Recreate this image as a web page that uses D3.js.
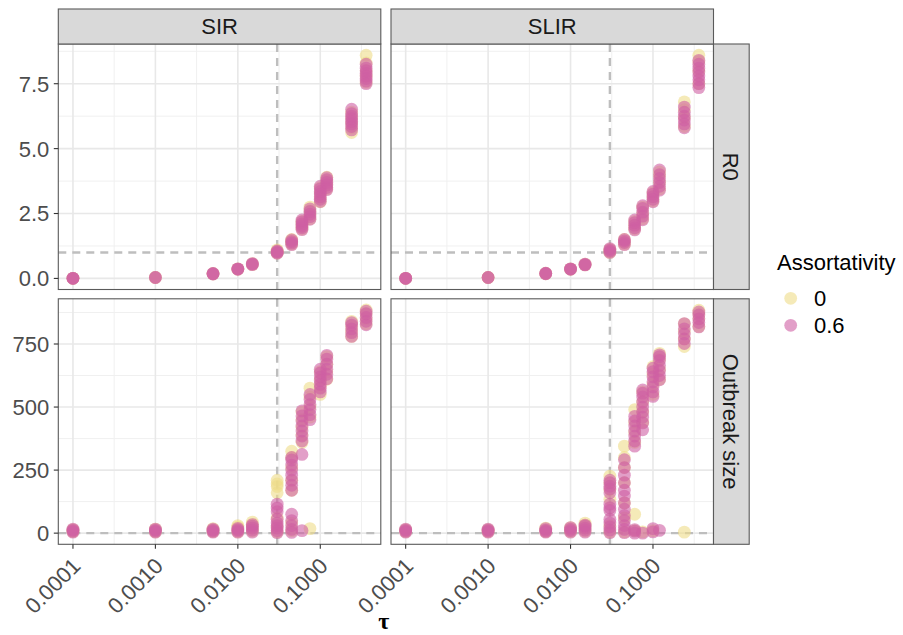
<!DOCTYPE html>
<html>
<head>
<meta charset="utf-8">
<script src="https://cdn.jsdelivr.net/npm/d3@7"></script>
<style>
  body { margin: 0; background: #fff; }
  svg { display: block; }
  text { font-family: "Liberation Sans", Arial, Helvetica, sans-serif; }
</style>
</head>
<body>
<svg id="chart" width="903" height="635"></svg>
<script>
// Transmission rate values used in the simulations
const tau = [0.0001, 0.001, 0.005, 0.01, 0.015, 0.03, 0.045, 0.06, 0.075, 0.1, 0.12, 0.24, 0.36];

const models = ["SIR", "SLIR"];
const measures = ["R0", "Outbreak size"];
const assortativity = ["0", "0.6"];
const groupColors = ["#EEDC88", "#CF5FA4"];

// Replicate results, one list per tau value
const sirR0_a0 = [
  [0.004, 0.004], [0.035, 0.037], [0.17, 0.19], [0.35, 0.37], [0.53, 0.57],
  [0.98, 1.02, 1.06, 1.1], [1.32, 1.38, 1.45, 1.5], [1.9, 2.0, 2.1, 2.2],
  [2.3, 2.45, 2.6, 2.75], [2.95, 3.1, 3.3, 3.5], [3.45, 3.6, 3.75, 3.9],
  [5.62, 5.8, 6.0, 6.2, 6.4], [7.55, 7.8, 8.0, 8.3, 8.6]
];
const sirR0_a6 = [
  [0.003, 0.004, 0.004], [0.035, 0.036], [0.17, 0.18, 0.19], [0.35, 0.36, 0.37], [0.53, 0.55, 0.57],
  [0.97, 1.0, 1.03, 1.06], [1.3, 1.36, 1.42, 1.48], [1.88, 1.95, 2.02, 2.1, 2.18, 2.25],
  [2.28, 2.38, 2.48, 2.58, 2.68], [2.96, 3.05, 3.15, 3.25, 3.35, 3.45, 3.55],
  [3.42, 3.5, 3.6, 3.7, 3.8, 3.88], [5.72, 5.85, 5.95, 6.05, 6.15, 6.25, 6.35, 6.52],
  [7.5, 7.6, 7.7, 7.8, 7.9, 8.0, 8.1, 8.25]
];
const slirR0_a0 = [
  [0.004, 0.004], [0.035, 0.037], [0.18, 0.2], [0.35, 0.37], [0.52, 0.55],
  [1.0, 1.06, 1.12], [1.32, 1.4, 1.5], [1.9, 2.05, 2.2], [2.3, 2.5, 2.75],
  [2.98, 3.15, 3.3], [3.45, 3.7, 3.95, 4.1], [5.85, 6.2, 6.5, 6.8], [7.5, 8.0, 8.35, 8.6]
];
const slirR0_a6 = [
  [0.003, 0.004, 0.004], [0.035, 0.036], [0.18, 0.19, 0.2], [0.35, 0.36, 0.37], [0.52, 0.53, 0.55],
  [1.0, 1.05, 1.1, 1.15], [1.3, 1.38, 1.45, 1.5], [1.87, 1.95, 2.05, 2.15, 2.25],
  [2.26, 2.4, 2.55, 2.7, 2.8], [2.95, 3.05, 3.15, 3.25, 3.35],
  [3.4, 3.55, 3.7, 3.85, 4.0, 4.18], [5.8, 5.95, 6.1, 6.25, 6.4, 6.6],
  [7.35, 7.5, 7.65, 7.8, 7.95, 8.1, 8.25, 8.4]
];
const sirSize_a0 = [
  [6, 10, 14], [5, 10, 16], [6, 12, 18], [5, 14, 24, 30], [8, 20, 34, 44],
  [5, 25, 60, 160, 185, 195, 210], [10, 40, 170, 210, 260, 300, 325],
  [360, 390, 420, 450, 480], [18, 460, 500, 540, 575], [550, 580, 610, 640],
  [610, 640, 670, 700], [780, 800, 820, 840], [830, 850, 870, 885]
];
const sirSize_a6 = [
  [4, 8, 12, 16], [4, 8, 12, 16], [4, 8, 12, 16], [4, 9, 14, 19], [4, 12, 20, 28, 34],
  [2, 10, 20, 30, 40, 55, 85, 100, 115], [3, 15, 30, 50, 75, 170, 190, 210, 230, 250, 270, 290, 300],
  [10, 312, 365, 385, 405, 425, 445, 465, 485], [450, 470, 490, 510, 530, 550],
  [560, 575, 590, 605, 620, 635, 650], [612, 630, 650, 670, 690, 705],
  [780, 795, 810, 825, 835], [826, 840, 855, 870, 880]
];
const slirSize_a0 = [
  [6, 10, 14], [6, 10, 14], [6, 12, 20], [6, 14, 22], [8, 20, 32, 40],
  [5, 30, 134, 173, 200, 226], [5, 60, 120, 200, 260, 300, 345],
  [10, 75, 360, 400, 440, 490], [5, 440, 480, 520, 560], [10, 550, 590, 630, 660],
  [610, 650, 690, 713], [4, 740, 770, 800, 830], [820, 850, 870, 884]
];
const slirSize_a6 = [
  [4, 8, 12, 16], [4, 8, 12, 16], [4, 8, 12, 18], [4, 10, 16, 22], [4, 12, 20, 28, 32],
  [2, 12, 25, 40, 55, 90, 101, 115, 160, 175, 186, 200, 210],
  [2, 15, 30, 50, 70, 95, 120, 147, 170, 200, 230, 260, 291],
  [0, 8, 14, 345, 365, 385, 405, 425, 445, 463],
  [0, 410, 437, 460, 480, 500, 520, 540, 555, 568],
  [5, 18, 542, 560, 580, 600, 620, 640, 654],
  [11, 608, 625, 645, 665, 685, 700, 707],
  [752, 770, 790, 810, 831], [818, 835, 850, 865, 877]
];

// Axis breaks and reference lines
const xTicks = [0.0001, 0.001, 0.01, 0.1];
const xTickLabels = ["0.0001", "0.0010", "0.0100", "0.1000"];
const r0Ticks = [0, 2.5, 5, 7.5];
const r0TickLabels = ["0.0", "2.5", "5.0", "7.5"];
const sizeTicks = [0, 250, 500, 750];
const sizeTickLabels = ["0", "250", "500", "750"];
const tauThreshold = 0.03;
const r0Threshold = 1;
const sizeThreshold = 0;

// panel data: [row][col] -> [assortativity 0, assortativity 0.6]
const panels = [
  [[sirR0_a0, sirR0_a6], [slirR0_a0, slirR0_a6]],
  [[sirSize_a0, sirSize_a6], [slirSize_a0, slirSize_a6]]
];
const rowTicks = [r0Ticks, sizeTicks];
const rowTickLabels = [r0TickLabels, sizeTickLabels];
const rowThreshold = [r0Threshold, sizeThreshold];

// Layout
const colX = [58.3, 391];
const panelW = 322.5;
const rowY = [44, 298.8];
const panelH = 245.5;
const stripTop = 9;
const stripH = 35;
const stripRightW = 35.7;
const pointAlpha = 0.6;

const svg = d3.select("#chart");

// Shared log x-scale with 5% expansion in log space
const lx = d3.extent(tau).map(Math.log10);
const ex = (lx[1] - lx[0]) * 0.05;
const xDomain = [Math.pow(10, lx[0] - ex), Math.pow(10, lx[1] + ex)];
const xScales = colX.map(x0 => d3.scaleLog().domain(xDomain).range([x0, x0 + panelW]));

// y scales per row, expanded 5%
const yScales = rowY.map((y0, r) => {
  const all = [];
  panels[r].forEach(p => p.forEach(g => g.forEach(list => list.forEach(v => all.push(v)))));
  const e = d3.extent(all);
  const pad = (e[1] - e[0]) * 0.05;
  return d3.scaleLinear().domain([e[0] - pad, e[1] + pad]).range([y0 + panelH, y0]);
});

const xMinor = xTicks.map(t => t * Math.sqrt(10));
function yMinor(ticks, scale) {
  const step = ticks[1] - ticks[0];
  const out = [];
  const d = scale.domain();
  for (let t = ticks[0] - step / 2; t <= d[1]; t += step) if (t >= d[0]) out.push(t);
  return out;
}

for (let r = 0; r < 2; r++) {
  for (let c = 0; c < 2; c++) {
    const x = xScales[c], y = yScales[r];
    const g = svg.append("g");
    const x0 = colX[c], y0 = rowY[r];

    g.append("rect").attr("x", x0).attr("y", y0).attr("width", panelW).attr("height", panelH).attr("fill", "#fff");

    // minor grid
    xMinor.filter(v => v > xDomain[0] && v < xDomain[1]).forEach(v => {
      g.append("line").attr("x1", x(v)).attr("x2", x(v)).attr("y1", y0).attr("y2", y0 + panelH)
        .attr("stroke", "#F0F0F0").attr("stroke-width", 1);
    });
    yMinor(rowTicks[r], y).forEach(v => {
      g.append("line").attr("x1", x0).attr("x2", x0 + panelW).attr("y1", y(v)).attr("y2", y(v))
        .attr("stroke", "#F0F0F0").attr("stroke-width", 1);
    });
    // major grid
    xTicks.forEach(v => {
      g.append("line").attr("x1", x(v)).attr("x2", x(v)).attr("y1", y0).attr("y2", y0 + panelH)
        .attr("stroke", "#E8E8E8").attr("stroke-width", 1.6);
    });
    rowTicks[r].forEach(v => {
      g.append("line").attr("x1", x0).attr("x2", x0 + panelW).attr("y1", y(v)).attr("y2", y(v))
        .attr("stroke", "#E8E8E8").attr("stroke-width", 1.6);
    });

    // reference lines
    g.append("line").attr("x1", x0).attr("x2", x0 + panelW)
      .attr("y1", y(rowThreshold[r])).attr("y2", y(rowThreshold[r]))
      .attr("stroke", "#BEBEBE").attr("stroke-width", 2.4).attr("stroke-dasharray", "8,6");
    g.append("line").attr("x1", x(tauThreshold)).attr("x2", x(tauThreshold))
      .attr("y1", y0).attr("y2", y0 + panelH)
      .attr("stroke", "#BEBEBE").attr("stroke-width", 2.4).attr("stroke-dasharray", "8,6");

    // points
    panels[r][c].forEach((series, gi) => {
      const pts = [];
      series.forEach((list, i) => list.forEach(v => pts.push([tau[i], v])));
      g.append("g").selectAll("circle").data(pts).join("circle")
        .attr("cx", d => x(d[0])).attr("cy", d => y(d[1])).attr("r", 6.4)
        .attr("fill", groupColors[gi]).attr("fill-opacity", pointAlpha);
    });

    // border
    g.append("rect").attr("x", x0).attr("y", y0).attr("width", panelW).attr("height", panelH)
      .attr("fill", "none").attr("stroke", "#5a5a5a").attr("stroke-width", 1.1);

    // y axis on left column
    if (c === 0) {
      rowTicks[r].forEach((v, i) => {
        g.append("line").attr("x1", x0 - 4.5).attr("x2", x0).attr("y1", y(v)).attr("y2", y(v))
          .attr("stroke", "#333").attr("stroke-width", 1.1);
        g.append("text").attr("x", x0 - 9).attr("y", y(v)).attr("dy", "0.36em")
          .attr("text-anchor", "end").attr("font-size", 22).attr("fill", "#4D4D4D")
          .text(rowTickLabels[r][i]);
      });
    }
    // x axis on bottom row
    if (r === 1) {
      xTicks.forEach((v, i) => {
        g.append("line").attr("x1", x(v)).attr("x2", x(v)).attr("y1", y0 + panelH).attr("y2", y0 + panelH + 4.5)
          .attr("stroke", "#333").attr("stroke-width", 1.1);
        g.append("text")
          .attr("transform", `translate(${x(v) + 9},${y0 + panelH + 23}) rotate(-45)`)
          .attr("text-anchor", "end").attr("font-size", 22).attr("fill", "#4D4D4D")
          .text(xTickLabels[i]);
      });
    }
  }
}

// top strips
models.forEach((m, c) => {
  svg.append("rect").attr("x", colX[c]).attr("y", stripTop).attr("width", panelW).attr("height", stripH)
    .attr("fill", "#D9D9D9").attr("stroke", "#5a5a5a").attr("stroke-width", 1.1);
  svg.append("text").attr("x", colX[c] + panelW / 2).attr("y", stripTop + stripH / 2).attr("dy", "0.36em")
    .attr("text-anchor", "middle").attr("font-size", 22).attr("fill", "#1A1A1A").text(m);
});
// right strips
measures.forEach((m, r) => {
  const sx = colX[1] + panelW;
  svg.append("rect").attr("x", sx).attr("y", rowY[r]).attr("width", stripRightW).attr("height", panelH)
    .attr("fill", "#D9D9D9").attr("stroke", "#5a5a5a").attr("stroke-width", 1.1);
  svg.append("text")
    .attr("transform", `translate(${sx + stripRightW / 2},${rowY[r] + panelH / 2}) rotate(90)`)
    .attr("dy", "0.36em").attr("text-anchor", "middle").attr("font-size", 22).attr("fill", "#1A1A1A").text(m);
});

// x axis title
svg.append("text").attr("x", (colX[0] + colX[1] + panelW) / 2 - 2).attr("y", 629)
  .attr("text-anchor", "middle").attr("font-size", 24).attr("font-weight", "bold").attr("fill", "#000")
  .style("font-family", "'Liberation Serif', 'DejaVu Serif', serif").text("τ");

// legend
const lg = svg.append("g");
lg.append("text").attr("x", 777).attr("y", 270).attr("font-size", 22).attr("fill", "#000").text("Assortativity");
assortativity.forEach((a, i) => {
  const cy = 298.3 + i * 27;
  lg.append("circle").attr("cx", 790.7).attr("cy", cy).attr("r", 6.4)
    .attr("fill", groupColors[i]).attr("fill-opacity", pointAlpha);
  lg.append("text").attr("x", 814).attr("y", cy).attr("dy", "0.36em").attr("font-size", 22).attr("fill", "#000").text(a);
});
</script>
</body>
</html>
